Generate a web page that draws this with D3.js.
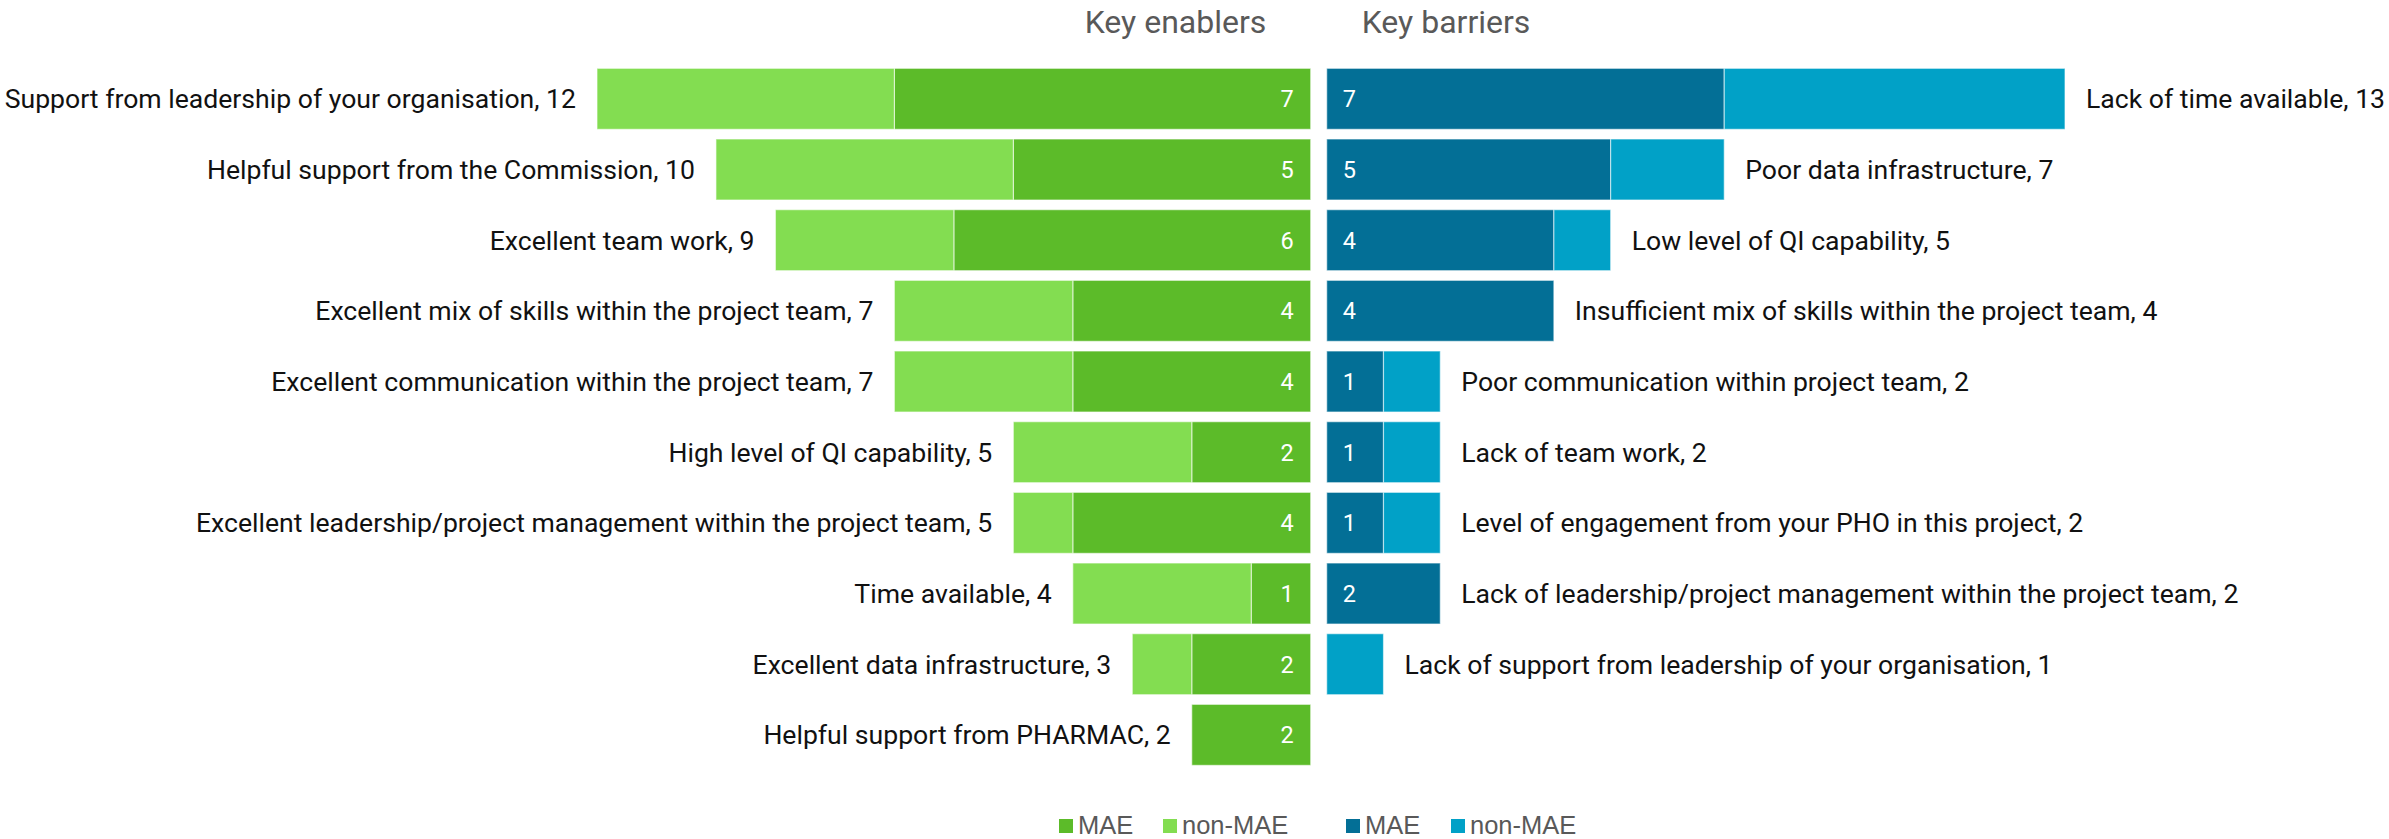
<!DOCTYPE html>
<html>
<head>
<meta charset="utf-8">
<script src="https://cdn.jsdelivr.net/npm/d3@7"></script>
<style>
  html, body { margin: 0; padding: 0; background: #ffffff; }
  svg { display: block; }
  .cat { font-family: Roboto, "Noto Sans", sans-serif; font-size: 26.6px; fill: #111111; }
  .val { font-family: Roboto, "Noto Sans", sans-serif; font-size: 23.5px; fill: #ffffff; }
  .title { font-family: Roboto, "Noto Sans", sans-serif; font-size: 32px; fill: #595959; }
  .leg { font-family: "Liberation Sans", Arial, sans-serif; font-size: 25.5px; fill: #595959; }
</style>
</head>
<body>
<script>
// Key enablers (left panel)
const enablerCategories = [
  "Support from leadership of your organisation",
  "Helpful support from the Commission",
  "Excellent team work",
  "Excellent mix of skills within the project team",
  "Excellent communication within the project team",
  "High level of QI capability",
  "Excellent leadership/project management within the project team",
  "Time available",
  "Excellent data infrastructure",
  "Helpful support from PHARMAC"
];
const enablerMAE    = [7, 5, 6, 4, 4, 2, 4, 1, 2, 2];
const enablerNonMAE = [5, 5, 3, 3, 3, 3, 1, 3, 1, 0];

// Key barriers (right panel)
const barrierCategories = [
  "Lack of time available",
  "Poor data infrastructure",
  "Low level of QI capability",
  "Insufficient mix of skills within the project team",
  "Poor communication within project team",
  "Lack of team work",
  "Level of engagement from your PHO in this project",
  "Lack of leadership/project management within the project team",
  "Lack of support from leadership of your organisation"
];
const barrierMAE    = [7, 5, 4, 4, 1, 1, 1, 2, 0];
const barrierNonMAE = [6, 2, 1, 0, 1, 1, 1, 0, 1];

const panelTitles = ["Key enablers", "Key barriers"];
const seriesNames = ["MAE", "non-MAE"];

const W = 2389, H = 839;
const colors = {
  enablerMAE: "#5cbb29",
  enablerNon: "#83dd51",
  barrierMAE: "#036f96",
  barrierNon: "#01a1c7"
};

const svg = d3.select("body").append("svg")
  .attr("width", W).attr("height", H);

// shared row positions for both panels
const rowIndex = d3.range(enablerCategories.length);
const y = d3.scaleBand()
  .domain(rowIndex)
  .range([63.5, 770.2])
  .paddingInner(0.137)
  .paddingOuter(0.0685);

// left panel grows leftward from its baseline
const xLeft = d3.scaleLinear().domain([0, 12]).range([1310.7, 597]);
// right panel grows rightward from its baseline
const xRight = d3.scaleLinear().domain([0, 13]).range([1326.7, 2065]);

const labelGap = 21;
const barStroke = "rgba(255,255,255,0.55)";

// ---- Left panel: enablers ----
const enablers = enablerCategories.map((c, i) => ({
  i, cat: c, mae: enablerMAE[i], non: enablerNonMAE[i], total: enablerMAE[i] + enablerNonMAE[i]
}));

const gL = svg.append("g");
// MAE segments start at the baseline
gL.selectAll("rect.mae").data(enablers.filter(d => d.mae > 0)).join("rect")
  .attr("class", "mae")
  .attr("x", d => xLeft(d.mae))
  .attr("width", d => xLeft(0) - xLeft(d.mae))
  .attr("y", d => y(d.i))
  .attr("height", y.bandwidth())
  .attr("fill", colors.enablerMAE)
  .attr("stroke", barStroke).attr("stroke-width", 1.2);
// non-MAE segments stacked beyond
gL.selectAll("rect.non").data(enablers.filter(d => d.non > 0)).join("rect")
  .attr("class", "non")
  .attr("x", d => xLeft(d.total))
  .attr("width", d => xLeft(d.mae) - xLeft(d.total))
  .attr("y", d => y(d.i))
  .attr("height", y.bandwidth())
  .attr("fill", colors.enablerNon)
  .attr("stroke", barStroke).attr("stroke-width", 1.2);
// MAE values inside bars
gL.selectAll("text.val").data(enablers.filter(d => d.mae > 0)).join("text")
  .attr("class", "val")
  .attr("x", xLeft(0) - 17)
  .attr("y", d => y(d.i) + y.bandwidth() / 2)
  .attr("dy", "0.36em")
  .attr("text-anchor", "end")
  .text(d => d.mae);
// category labels with totals
gL.selectAll("text.cat").data(enablers).join("text")
  .attr("class", "cat")
  .attr("x", d => xLeft(d.total) - labelGap)
  .attr("y", d => y(d.i) + y.bandwidth() / 2)
  .attr("dy", "0.36em")
  .attr("text-anchor", "end")
  .text(d => `${d.cat}, ${d.total}`);

// ---- Right panel: barriers ----
const barriers = barrierCategories.map((c, i) => ({
  i, cat: c, mae: barrierMAE[i], non: barrierNonMAE[i], total: barrierMAE[i] + barrierNonMAE[i]
}));

const gR = svg.append("g");
gR.selectAll("rect.mae").data(barriers.filter(d => d.mae > 0)).join("rect")
  .attr("class", "mae")
  .attr("x", xRight(0))
  .attr("width", d => xRight(d.mae) - xRight(0))
  .attr("y", d => y(d.i))
  .attr("height", y.bandwidth())
  .attr("fill", colors.barrierMAE)
  .attr("stroke", barStroke).attr("stroke-width", 1.2);
gR.selectAll("rect.non").data(barriers.filter(d => d.non > 0)).join("rect")
  .attr("class", "non")
  .attr("x", d => xRight(d.mae))
  .attr("width", d => xRight(d.total) - xRight(d.mae))
  .attr("y", d => y(d.i))
  .attr("height", y.bandwidth())
  .attr("fill", colors.barrierNon)
  .attr("stroke", barStroke).attr("stroke-width", 1.2);
gR.selectAll("text.val").data(barriers.filter(d => d.mae > 0)).join("text")
  .attr("class", "val")
  .attr("x", xRight(0) + 16)
  .attr("y", d => y(d.i) + y.bandwidth() / 2)
  .attr("dy", "0.36em")
  .attr("text-anchor", "start")
  .text(d => d.mae);
gR.selectAll("text.cat").data(barriers).join("text")
  .attr("class", "cat")
  .attr("x", d => xRight(d.total) + labelGap)
  .attr("y", d => y(d.i) + y.bandwidth() / 2)
  .attr("dy", "0.36em")
  .attr("text-anchor", "start")
  .text(d => `${d.cat}, ${d.total}`);

// ---- Panel titles ----
svg.selectAll("text.title").data(panelTitles).join("text")
  .attr("class", "title")
  .attr("x", (d, i) => [1175.5, 1446][i])
  .attr("y", 32.5)
  .attr("text-anchor", "middle")
  .text(d => d);

// ---- Legends ----
const legendItems = [
  { name: seriesNames[0], color: colors.enablerMAE, x: 1059 },
  { name: seriesNames[1], color: colors.enablerNon, x: 1163 },
  { name: seriesNames[0], color: colors.barrierMAE, x: 1346 },
  { name: seriesNames[1], color: colors.barrierNon, x: 1451 }
];
const lg = svg.append("g").selectAll("g").data(legendItems).join("g")
  .attr("transform", d => `translate(${d.x},819)`);
lg.append("rect").attr("width", 14).attr("height", 14).attr("fill", d => d.color);
lg.append("text").attr("class", "leg")
  .attr("x", 19).attr("y", 15)
  .text(d => d.name);
</script>
</body>
</html>
